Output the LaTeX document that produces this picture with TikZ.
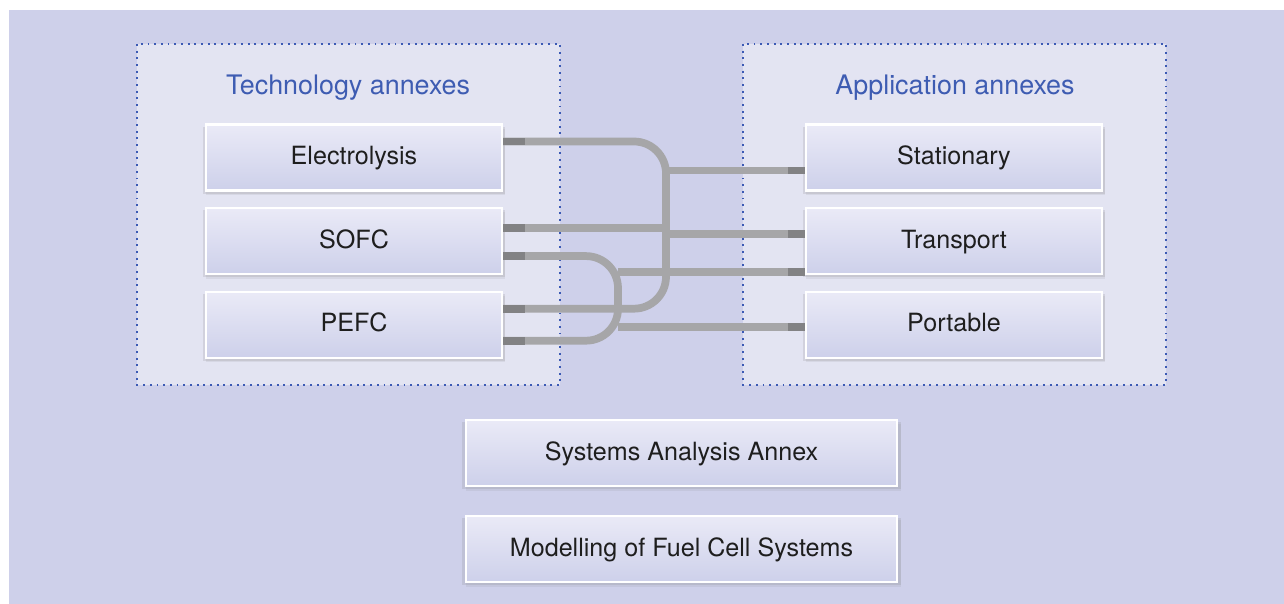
\documentclass[tikz,border=0pt]{standalone}
\usepackage{fontspec}
\setmainfont{TeX Gyre Heros}
\usetikzlibrary{positioning,calc,shadows}

\definecolor{bgblue}{RGB}{206,208,234}
\definecolor{groupfill}{RGB}{227,228,242}
\definecolor{dotblue}{RGB}{60,90,180}
\definecolor{titleblue}{RGB}{62,92,178}
\definecolor{boxtop}{RGB}{234,234,247}
\definecolor{boxbot}{RGB}{205,208,234}
\definecolor{pipegray}{RGB}{166,166,168}
\definecolor{stubgray}{RGB}{130,130,132}
\definecolor{textblack}{RGB}{30,30,30}

\begin{document}
\begin{tikzpicture}[x=0.02cm,y=-0.02cm,node distance=0.31cm and 6.04cm,
  annex/.style={draw=white,line width=1.2pt,top color=boxtop,bottom color=boxbot,
    minimum width=5.92cm,minimum height=1.32cm,inner sep=0pt,text=textblack,
    font=\fontsize{14.3}{16}\selectfont,text height=1em,text depth=0.2em,
    drop shadow={shadow xshift=0pt,shadow yshift=-1.5pt,shadow scale=1.02,opacity=.18},
    drop shadow={shadow xshift=1pt,shadow yshift=-2.5pt,shadow scale=1.01,opacity=.12}},
  wide/.style={annex,minimum width=8.62cm},
  title/.style={text=titleblue,font=\fontsize{15.3}{17}\selectfont,anchor=base},
  group/.style={draw=dotblue,line width=0.9pt,dash pattern=on 1.1pt off 2.7pt,fill=groupfill},
  pipe/.style={draw=pipegray,line width=4.4pt,rounded corners=0.64cm},
  stub/.style={draw=stubgray,line width=4.4pt}]
\useasboundingbox (0,0) rectangle (1284,604);
\fill[bgblue] (9,10) rectangle (1284,604);

% annex groups
\draw[group] (137,44) rectangle (560,385);
\draw[group] (743,44) rectangle (1166,385);
\node[title] (techtitle) at (348,95) {Technology annexes};
\node[title] (apptitle) at (955,95) {Application annexes};

% technology and application boxes
\node[annex] (elec) at (354,157.5) {Electrolysis};
\node[annex,below=of elec] (sofc) {SOFC};
\node[annex,below=of sofc] (pefc) {PEFC};
\node[annex,right=of elec] (stat) {Stationary};
\node[annex,right=of sofc] (trans) {Transport};
\node[annex,right=of pefc] (port) {Portable};

% cross-cutting annexes
\node[wide] (sys) at (681.5,453) {Systems Analysis Annex};
\node[wide,below=0.56cm of sys] (model) {Modelling of Fuel Cell Systems};

% links
\coordinate (busR) at (666,0);
\coordinate (busL) at (618,0);
\draw[pipe] ($(elec.east)+(0,-16)$) -| ($(busR |- pefc.east)+(0,-16)$) -- ($(pefc.east)+(0,-16)$);
\draw[pipe] ($(sofc.east)+(0,15)$) -| ($(busL |- pefc.east)+(0,16)$) -- ($(pefc.east)+(0,16)$);
\draw[pipe] ($(sofc.east)+(0,-13)$) -- ($(busR |- sofc.east)+(0,-13)$);
\draw[pipe] ($(busR |- stat.west)+(0,13)$) -- ($(stat.west)+(0,13)$);
\draw[pipe] ($(busR |- trans.west)+(0,-7)$) -- ($(trans.west)+(0,-7)$);
\draw[pipe] ($(busL |- trans.west)+(0,31)$) -- ($(trans.west)+(0,31)$);
\draw[pipe] ($(busL |- port.west)+(0,2)$) -- ($(port.west)+(0,2)$);

% stubs at the boxes
\foreach \b/\d in {elec/-16,sofc/-13,sofc/15,pefc/-16,pefc/16}
  \draw[stub] ($(\b.east)+(0,\d)$) -- ++(22,0);
\foreach \b/\d in {stat/13,trans/-7,trans/31,port/2}
  \draw[stub] ($(\b.west)+(-17,\d)$) -- ++(17,0);
\end{tikzpicture}
\end{document}
